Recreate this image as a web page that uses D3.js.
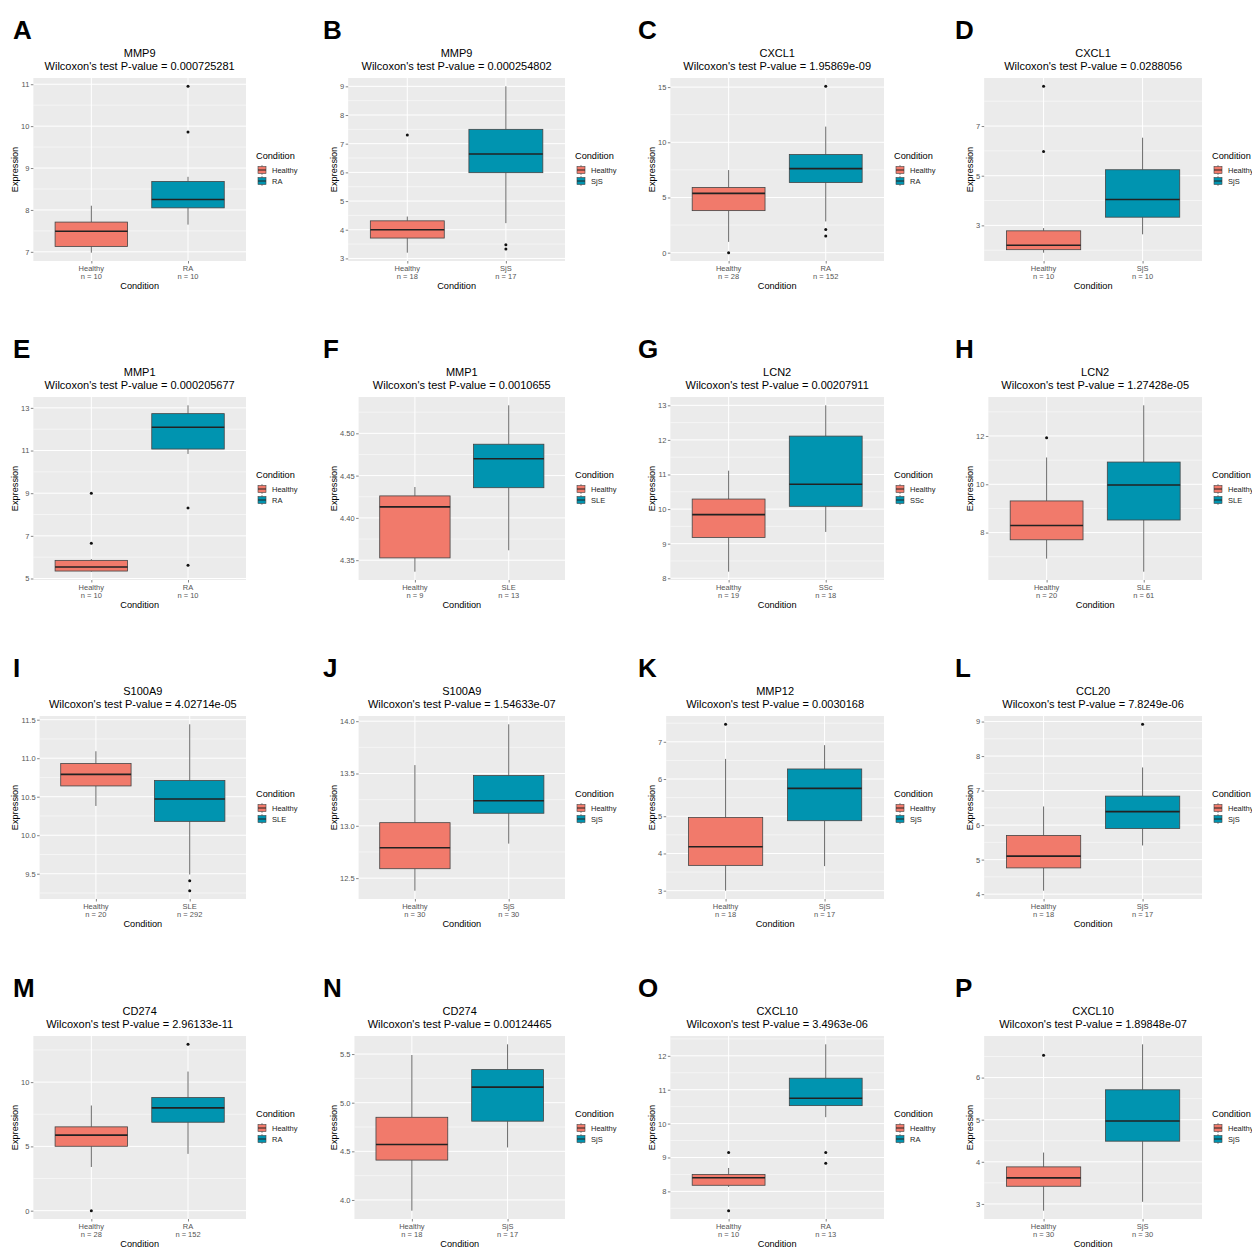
<!DOCTYPE html>
<html lang="en">
<head>
  <meta charset="UTF-8">
  <title>Expression boxplots, healthy vs disease</title>
  <script src="https://d3js.org/d3.v7.min.js"></script>
  <style>
    body { margin: 0; background: #fff; }
    svg { display: block; font-family: "Liberation Sans", Arial, sans-serif; }
  </style>
</head>
<body>
  <svg id="chart"></svg>
  <script>
    // ---- data, one entry per panel A..P ----
    const panelLetters = ["A","B","C","D","E","F","G","H","I","J","K","L","M","N","O","P"];
    const genes = ["MMP9","MMP9","CXCL1","CXCL1","MMP1","MMP1","LCN2","LCN2",
                   "S100A9","S100A9","MMP12","CCL20","CD274","CD274","CXCL10","CXCL10"];
    const diseases = ["RA","SjS","RA","SjS","RA","SLE","SSc","SLE",
                      "SLE","SjS","SjS","SjS","RA","SjS","RA","SjS"];
    const pValues = ["0.000725281","0.000254802","1.95869e-09","0.0288056",
                     "0.000205677","0.0010655","0.00207911","1.27428e-05",
                     "4.02714e-05","1.54633e-07","0.0030168","7.8249e-06",
                     "2.96133e-11","0.00124465","3.4963e-06","1.89848e-07"];
    const nHealthy = [10,18,28,10,10,9,19,20,20,30,18,18,28,18,10,30];
    const nDisease = [10,17,152,10,10,13,18,61,292,30,17,17,152,17,13,30];
    const tickLabels = [
      ["7","8","9","10","11"], ["3","4","5","6","7","8","9"], ["0","5","10","15"], ["3","5","7"],
      ["5","7","9","11","13"], ["4.35","4.40","4.45","4.50"], ["8","9","10","11","12","13"], ["8","10","12"],
      ["9.5","10.0","10.5","11.0","11.5"], ["12.5","13.0","13.5","14.0"], ["3","4","5","6","7"], ["4","5","6","7","8","9"],
      ["0","5","10"], ["4.0","4.5","5.0","5.5"], ["8","9","10","11","12"], ["3","4","5","6"]
    ];
    // [lower whisker, Q1, median, Q3, upper whisker]
    const healthyStats = [
      [6.98, 7.13, 7.49, 7.71, 8.10], [3.20, 3.71, 4.00, 4.31, 4.46],
      [0.98, 3.81, 5.37, 5.91, 7.48], [1.90, 2.02, 2.20, 2.78, 2.89],
      [5.32, 5.35, 5.54, 5.85, 5.91], [4.3364, 4.3527, 4.413, 4.426, 4.4365],
      [8.19, 9.18, 9.84, 10.29, 11.11], [6.92, 7.70, 8.29, 9.31, 11.11],
      [10.38, 10.64, 10.79, 10.93, 11.09], [12.38, 12.59, 12.79, 13.03, 13.58],
      [3.00, 3.68, 4.18, 4.97, 6.54], [4.10, 4.76, 5.10, 5.70, 6.54],
      [3.40, 5.01, 5.88, 6.52, 8.18], [3.89, 4.41, 4.57, 4.85, 5.49],
      [8.13, 8.18, 8.40, 8.50, 8.69], [2.84, 3.42, 3.62, 3.88, 4.22]
    ];
    const diseaseStats = [
      [7.65, 8.05, 8.25, 8.68, 8.79], [4.23, 5.99, 6.64, 7.50, 9.00],
      [2.83, 6.36, 7.61, 8.89, 11.42], [2.64, 3.33, 4.04, 5.24, 6.53],
      [10.84, 11.07, 12.09, 12.73, 13.12], [4.3617, 4.4357, 4.470, 4.4871, 4.5331],
      [9.34, 10.08, 10.72, 12.11, 13.00], [6.38, 8.52, 9.97, 10.92, 13.27],
      [9.49, 10.18, 10.47, 10.71, 11.44], [12.83, 13.12, 13.24, 13.48, 13.97],
      [3.66, 4.88, 5.75, 6.27, 6.91], [5.41, 5.90, 6.39, 6.84, 7.67],
      [4.42, 6.88, 8.00, 8.80, 10.82], [4.54, 4.81, 5.16, 5.34, 5.60],
      [10.19, 10.53, 10.75, 11.34, 12.34], [3.05, 4.49, 4.97, 5.71, 6.79]
    ];
    const healthyOutliers = [
      [], [7.30], [0.0], [8.6, 5.97],
      [9.0, 6.65], [], [], [11.93],
      [], [], [7.47], [],
      [0.0], [], [9.15, 7.43], [6.53]
    ];
    const diseaseOutliers = [
      [10.95, 9.86], [3.48, 3.33], [15.07, 2.11, 1.52], [],
      [8.31, 5.62], [], [], [],
      [9.41, 9.28], [], [], [8.92],
      [12.94], [], [9.15, 8.83], []
    ];

    const healthyColor = "#F17A6B";
    const diseaseColor = "#0094B0";

    // ---- layout ----
    const width = 1252, height = 1249;
    const colYlab = [15, 334, 652, 970];
    const colRight = [246, 565, 884, 1202];
    const colLetter = [13, 323, 638, 955];
    const rowTop = [0, 319, 638, 958];
    const plotTop = 78, plotBottom = 261;

    const svg = d3.select("#chart")
      .attr("width", width)
      .attr("height", height);

    svg.append("rect").attr("width", width).attr("height", height).attr("fill", "#fff");

    // measure tick label width so the panel starts after the labels like ggplot
    const measure = svg.append("text").attr("font-size", 7.5).attr("visibility", "hidden");
    function textWidth(s) {
      measure.text(s);
      return measure.node().getComputedTextLength();
    }

    panelLetters.forEach((letter, i) => {
      const col = i % 4, row = Math.floor(i / 4);
      const g = svg.append("g").attr("transform", `translate(0,${rowTop[row]})`);

      const ticks = tickLabels[i].map(Number);
      const all = [...healthyStats[i], ...diseaseStats[i], ...healthyOutliers[i], ...diseaseOutliers[i]];
      const [lo, hi] = d3.extent(all);
      const pad = (hi - lo) * 0.05;
      const y = d3.scaleLinear().domain([lo - pad, hi + pad]).range([plotBottom, plotTop]);

      const tickW = d3.max(tickLabels[i], textWidth);
      const left = colYlab[col] + 10 + tickW;
      const right = colRight[col];
      const x = d3.scalePoint().domain(["Healthy", diseases[i]]).range([left, right]).padding(0.6);
      const boxW = x.step() * 0.75;

      // panel background
      g.append("rect")
        .attr("x", left).attr("y", plotTop)
        .attr("width", right - left).attr("height", plotBottom - plotTop)
        .attr("fill", "#EBEBEB");

      // minor grid
      const step = ticks[1] - ticks[0];
      const minor = [];
      for (let v = ticks[0] - step / 2; v <= y.domain()[1]; v += step) {
        if (v >= y.domain()[0]) minor.push(v);
      }
      g.append("g").selectAll("line").data(minor).join("line")
        .attr("x1", left).attr("x2", right)
        .attr("y1", d => y(d)).attr("y2", d => y(d))
        .attr("stroke", "#fff").attr("stroke-width", 0.5);

      // major grid
      g.append("g").selectAll("line").data(ticks).join("line")
        .attr("x1", left).attr("x2", right)
        .attr("y1", d => y(d)).attr("y2", d => y(d))
        .attr("stroke", "#fff").attr("stroke-width", 1);
      g.append("g").selectAll("line").data(x.domain()).join("line")
        .attr("x1", d => x(d)).attr("x2", d => x(d))
        .attr("y1", plotTop).attr("y2", plotBottom)
        .attr("stroke", "#fff").attr("stroke-width", 1);

      // y axis
      const yAxis = g.append("g")
        .attr("transform", `translate(${left},0)`)
        .call(d3.axisLeft(y).tickValues(ticks)
          .tickFormat((d, k) => tickLabels[i][k])
          .tickSize(2.5).tickPadding(1.5));
      yAxis.select(".domain").remove();
      yAxis.selectAll(".tick line").attr("stroke", "#333").attr("stroke-width", 0.6);
      yAxis.selectAll(".tick text").attr("font-size", 7.5).attr("fill", "#555")
        .attr("font-family", null);

      // x axis ticks
      const xAxis = g.append("g")
        .attr("transform", `translate(0,${plotBottom})`)
        .call(d3.axisBottom(x).tickSize(2.5).tickFormat(""));
      xAxis.select(".domain").remove();
      xAxis.selectAll(".tick line").attr("stroke", "#333").attr("stroke-width", 0.6);

      const counts = [nHealthy[i], nDisease[i]];
      x.domain().forEach((cat, k) => {
        g.append("text")
          .attr("x", x(cat)).attr("y", plotBottom + 9.5)
          .attr("text-anchor", "middle").attr("font-size", 7.5).attr("fill", "#555")
          .text(cat);
        g.append("text")
          .attr("x", x(cat)).attr("y", plotBottom + 17.5)
          .attr("text-anchor", "middle").attr("font-size", 7.5).attr("fill", "#555")
          .text(`n = ${counts[k]}`);
      });

      // axis titles
      g.append("text")
        .attr("x", (left + right) / 2).attr("y", plotBottom + 27.5)
        .attr("text-anchor", "middle").attr("font-size", 9.2)
        .text("Condition");
      g.append("text")
        .attr("transform", `translate(${colYlab[col] + 3.3},${(plotTop + plotBottom) / 2}) rotate(-90)`)
        .attr("text-anchor", "middle").attr("font-size", 9.2)
        .text("Expression");

      // boxes
      const groups = [
        { cat: "Healthy", s: healthyStats[i], out: healthyOutliers[i], color: healthyColor },
        { cat: diseases[i], s: diseaseStats[i], out: diseaseOutliers[i], color: diseaseColor }
      ];
      const box = g.append("g").selectAll("g").data(groups).join("g");
      box.append("line")
        .attr("x1", d => x(d.cat)).attr("x2", d => x(d.cat))
        .attr("y1", d => y(d.s[0])).attr("y2", d => y(d.s[1]))
        .attr("stroke", "#444").attr("stroke-width", 0.8);
      box.append("line")
        .attr("x1", d => x(d.cat)).attr("x2", d => x(d.cat))
        .attr("y1", d => y(d.s[3])).attr("y2", d => y(d.s[4]))
        .attr("stroke", "#444").attr("stroke-width", 0.8);
      box.append("rect")
        .attr("x", d => x(d.cat) - boxW / 2).attr("width", boxW)
        .attr("y", d => y(d.s[3])).attr("height", d => y(d.s[1]) - y(d.s[3]))
        .attr("fill", d => d.color).attr("stroke", "#444").attr("stroke-width", 0.8);
      box.append("line")
        .attr("x1", d => x(d.cat) - boxW / 2).attr("x2", d => x(d.cat) + boxW / 2)
        .attr("y1", d => y(d.s[2])).attr("y2", d => y(d.s[2]))
        .attr("stroke", "#222").attr("stroke-width", 1.6);
      box.selectAll("circle").data(d => d.out.map(v => ({ v, cat: d.cat }))).join("circle")
        .attr("cx", d => x(d.cat)).attr("cy", d => y(d.v)).attr("r", 1.5)
        .attr("fill", "#111");

      // title
      const cx = (left + right) / 2;
      g.append("text").attr("x", cx).attr("y", 57)
        .attr("text-anchor", "middle").attr("font-size", 11).text(genes[i]);
      g.append("text").attr("x", cx).attr("y", 69.5)
        .attr("text-anchor", "middle").attr("font-size", 11)
        .text(`Wilcoxon's test P-value = ${pValues[i]}`);

      // panel letter
      svg.append("text")
        .attr("x", colLetter[col]).attr("y", rowTop[row] + 39)
        .attr("font-size", 26).attr("font-weight", "bold")
        .text(letter);

      // legend
      const lg = g.append("g").attr("transform", `translate(${right + 10},0)`);
      lg.append("text").attr("x", 0).attr("y", 159).attr("font-size", 9.2).text("Condition");
      groups.forEach((d, k) => {
        const ky = 170 + k * 11;
        lg.append("line").attr("x1", 6).attr("x2", 6).attr("y1", ky - 5).attr("y2", ky + 5)
          .attr("stroke", "#444").attr("stroke-width", 0.6);
        lg.append("rect").attr("x", 2).attr("y", ky - 3.5).attr("width", 8).attr("height", 7)
          .attr("fill", d.color).attr("stroke", "#444").attr("stroke-width", 0.6);
        lg.append("line").attr("x1", 2).attr("x2", 10).attr("y1", ky).attr("y2", ky)
          .attr("stroke", "#222").attr("stroke-width", 1);
        lg.append("text").attr("x", 16).attr("y", ky + 2.7).attr("font-size", 7.5)
          .attr("fill", "#222").text(d.cat);
      });
    });

    measure.remove();
  </script>
</body>
</html>
